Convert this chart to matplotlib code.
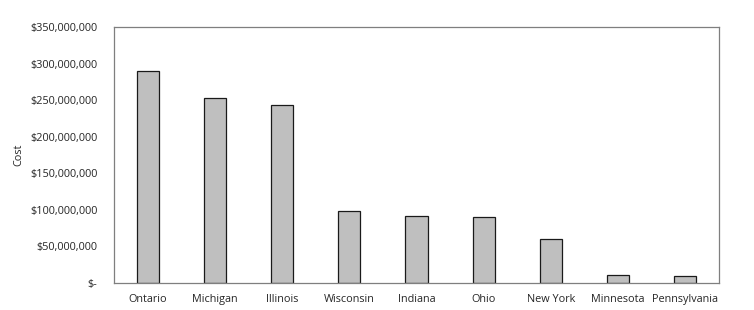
import matplotlib.pyplot as plt
from matplotlib.ticker import FuncFormatter

states = ['Ontario', 'Michigan', 'Illinois', 'Wisconsin', 'Indiana', 'Ohio',
          'New York', 'Minnesota', 'Pennsylvania']
cost = [290e6, 252.5e6, 244e6, 99e6, 92e6, 90e6, 60e6, 11e6, 9.5e6]

plt.rcParams['font.family'] = ['Open Sans', 'DejaVu Sans']

fig = plt.figure(figsize=(7.54, 3.10), dpi=100)
ax = fig.add_axes([114 / 754, 27 / 310, 605 / 754, 256 / 310])

x = range(len(states))
ax.bar(x, cost, width=0.33, color='#bfbfbf', edgecolor='#1a1a1a', linewidth=0.9)

ax.set_xlim(-0.5, len(states) - 0.5)
ax.set_ylim(0, 350e6)
ax.set_yticks(range(0, 350000001, 50000000))


def money(v, pos):
    if v == 0:
        return '$-'
    return '${:,.0f}'.format(v)


ax.yaxis.set_major_formatter(FuncFormatter(money))
ax.set_xticks(list(x))
ax.set_xticklabels(states)
ax.tick_params(length=0, labelsize=7.8, colors='#262626', pad=8)
ax.tick_params(axis='y', pad=12)
ax.set_ylabel('Cost', fontsize=7.8, color='#262626', labelpad=4)
for s in ax.spines.values():
    s.set_color('#7f7f7f')
    s.set_linewidth(0.9)

fig.savefig('out.png', dpi=100)
